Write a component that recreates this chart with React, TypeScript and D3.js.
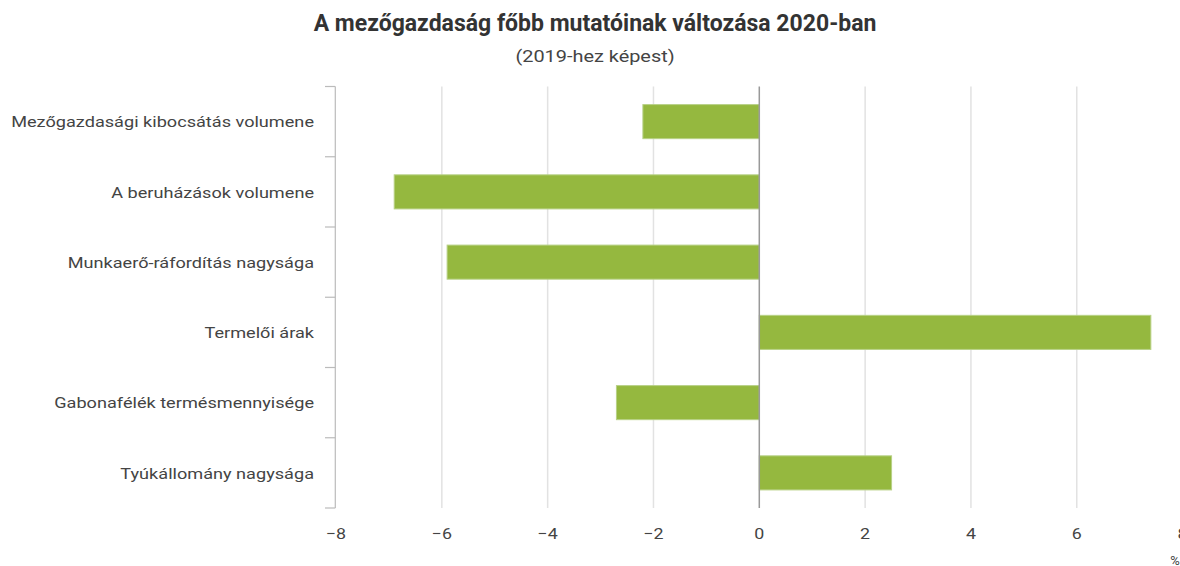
import React from "react";
import * as d3 from "d3";

const categories = [
  "Mezőgazdasági kibocsátás volumene",
  "A beruházások volumene",
  "Munkaerő-ráfordítás nagysága",
  "Termelői árak",
  "Gabonafélék termésmennyisége",
  "Tyúkállomány nagysága",
];
const values = [-2.2, -6.9, -5.9, 7.4, -2.7, 2.5];
const xTicks = [-8, -6, -4, -2, 0, 2, 4, 6, 8];

const W = 1180;
const H = 566;
const FONT = "Roboto, 'Noto Sans', sans-serif";

function SText(props: {
  x: number;
  y: number;
  sx: number;
  anchor: string;
  size: number;
  weight?: number;
  fill: string;
  children: React.ReactNode;
}) {
  return (
    <text
      transform={`translate(${props.x},${props.y}) scale(${props.sx},1)`}
      textAnchor={props.anchor}
      fontSize={props.size}
      fontWeight={props.weight ?? 400}
      fill={props.fill}
    >
      {props.children}
    </text>
  );
}

export default function App() {
  const x = d3.scaleLinear().domain([-8, 8]).range([336, 1182.6]);
  const y = d3
    .scaleBand<string>()
    .domain(categories)
    .range([86.5, 508])
    .paddingInner(0.515)
    .paddingOuter(0.2575);
  const step = y.step();
  const top = 86.5;
  const bottom = 508;
  const axisX = 335.3;

  return (
    <svg
      width={W}
      height={H}
      style={{ position: "absolute", left: 0, top: 0, background: "#fff" }}
      fontFamily={FONT}
    >
      <SText x={595} y={31} sx={1.0} anchor="middle" size={23} weight={700} fill="#333">
        A mezőgazdaság főbb mutatóinak változása 2020-ban
      </SText>
      <SText x={595} y={62} sx={1.17} anchor="middle" size={17} fill="#444">
        (2019-hez képest)
      </SText>

      {xTicks
        .filter((t) => t !== 0 && t !== -8)
        .map((t) => (
          <line key={t} x1={x(t)} x2={x(t)} y1={top} y2={bottom} stroke="#e2e2e2" strokeWidth={1.5} />
        ))}

      {categories.map((c, i) => {
        const v = values[i];
        const x0 = x(Math.min(0, v));
        const x1 = x(Math.max(0, v));
        return (
          <rect
            key={c}
            x={x0}
            y={y(c)}
            width={x1 - x0}
            height={y.bandwidth()}
            fill="#95b83f"
            stroke="#b8d186"
            strokeWidth={1}
          />
        );
      })}

      <line x1={x(0)} x2={x(0)} y1={top} y2={bottom} stroke="#999" strokeWidth={1.5} />

      <line x1={axisX} x2={axisX} y1={top} y2={bottom} stroke="#bbb" strokeWidth={1.2} />
      {d3.range(categories.length + 1).map((i) => (
        <line
          key={i}
          x1={325}
          x2={axisX}
          y1={top + i * step}
          y2={top + i * step}
          stroke="#bbb"
          strokeWidth={1.2}
        />
      ))}

      {categories.map((c) => (
        <SText
          key={c}
          x={314}
          y={(y(c) ?? 0) + y.bandwidth() / 2 + 5.8}
          sx={1.17}
          anchor="end"
          size={15.5}
          fill="#444"
        >
          {c}
        </SText>
      ))}

      {xTicks.map((t) => (
        <SText key={t} x={x(t)} y={539} sx={1.15} anchor="middle" size={15.5} fill="#444">
          {t < 0 ? "−" + Math.abs(t) : String(t)}
        </SText>
      ))}

      <SText x={1175} y={565} sx={1} anchor="middle" size={13} fill="#444">
        %
      </SText>
    </svg>
  );
}
